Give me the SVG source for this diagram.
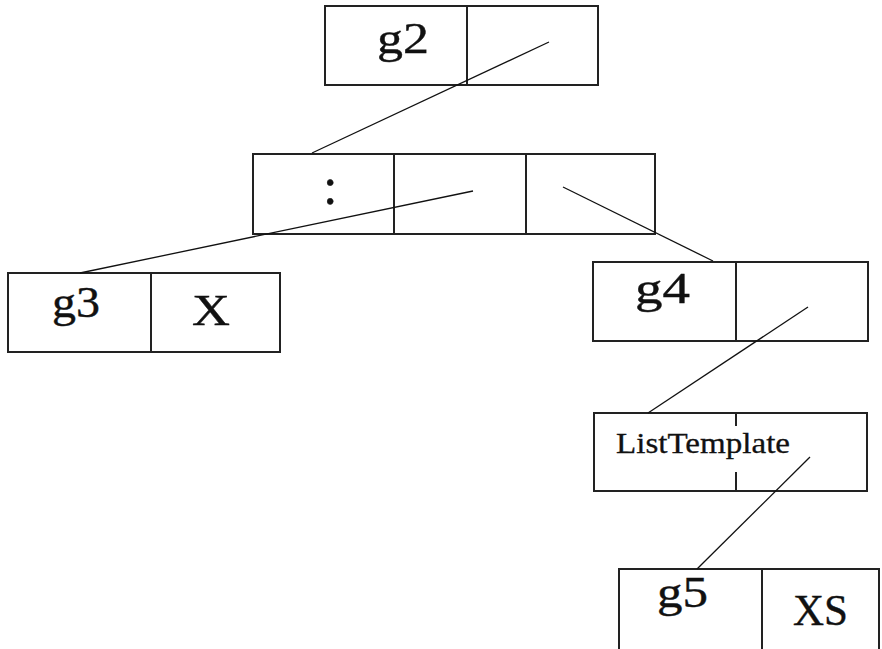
<svg xmlns="http://www.w3.org/2000/svg" width="882" height="649" viewBox="0 0 882 649">
<style>
.box{fill:#fff;stroke:#222;stroke-width:2}
.div{stroke:#222;stroke-width:2;fill:none}
.lnk{stroke:#111;stroke-width:1.3;fill:none}
.t{font-family:"Liberation Serif","Times New Roman",serif;font-size:45px;fill:#111;stroke:#111;stroke-width:0.4}
.s{font-family:"Liberation Serif","Times New Roman",serif;font-size:29px;fill:#111;stroke:#111;stroke-width:0.3}
</style>
<rect width="882" height="649" fill="#fff"/>
<g id="g2">
<rect class="box" x="325" y="6" width="273" height="79"/>
<line class="div" x1="467" y1="6" x2="467" y2="85"/>
<text class="t" x="377" y="53" textLength="52" lengthAdjust="spacingAndGlyphs">g2</text>
</g>
<g id="cons">
<rect class="box" x="253" y="154" width="402" height="80"/>
<line class="div" x1="394" y1="154" x2="394" y2="234"/>
<line class="div" x1="526" y1="154" x2="526" y2="234"/>
<text class="t" x="323" y="204" style="font-size:52px">:</text>
</g>
<g id="g3">
<rect class="box" x="8" y="273" width="272" height="79"/>
<line class="div" x1="151" y1="273" x2="151" y2="352"/>
<text class="t" x="52" y="317" textLength="48" lengthAdjust="spacingAndGlyphs">g3</text>
<text class="t" x="192" y="325" textLength="38" lengthAdjust="spacingAndGlyphs">X</text>
</g>
<g id="g4">
<rect class="box" x="593" y="262" width="275" height="79"/>
<line class="div" x1="736" y1="262" x2="736" y2="341"/>
<text class="t" x="635" y="303" textLength="55" lengthAdjust="spacingAndGlyphs">g4</text>
</g>
<g id="listtemplate">
<rect class="box" x="594" y="413" width="273" height="78"/>
<line class="div" x1="736" y1="413" x2="736" y2="426"/>
<line class="div" x1="736" y1="472" x2="736" y2="491"/>
<text class="s" x="616" y="453" textLength="174" lengthAdjust="spacingAndGlyphs">ListTemplate</text>
</g>
<g id="g5">
<rect class="box" x="619" y="569" width="260" height="82"/>
<line class="div" x1="762" y1="569" x2="762" y2="649"/>
<text class="t" x="657" y="607" textLength="51" lengthAdjust="spacingAndGlyphs">g5</text>
<text class="t" x="793" y="625" textLength="55" lengthAdjust="spacingAndGlyphs">XS</text>
</g>
<g id="connectors">
<line class="lnk" x1="549" y1="42" x2="312" y2="153"/>
<line class="lnk" x1="473" y1="191" x2="80" y2="273"/>
<line class="lnk" x1="563" y1="187" x2="713" y2="261"/>
<line class="lnk" x1="808" y1="307" x2="648" y2="413"/>
<line class="lnk" x1="810" y1="457" x2="697" y2="569"/>
</g>
</svg>
